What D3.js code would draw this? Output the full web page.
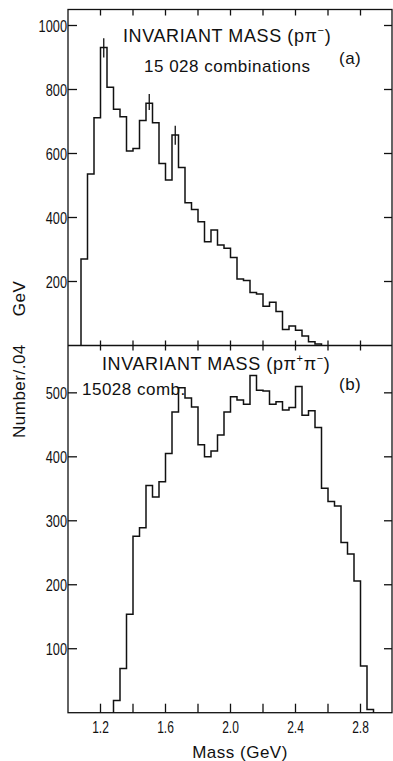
<!DOCTYPE html>
<html>
<head>
<meta charset="utf-8">
<script src="https://cdn.jsdelivr.net/npm/d3@7"></script>
<style>
  html, body { margin: 0; padding: 0; background: #fff; }
  svg { display: block; }
  .tick-label { font-family: "Liberation Sans", "DejaVu Sans", sans-serif; font-size: 17px; fill: #111; }
  .title { font-family: "Liberation Sans", "DejaVu Sans", sans-serif; font-size: 18px; fill: #111; letter-spacing: 0.6px; }
  .sub { font-family: "Liberation Sans", "DejaVu Sans", sans-serif; font-size: 17px; fill: #111; letter-spacing: 0.5px; }
</style>
</head>
<body>
<svg id="chart" width="393" height="761"></svg>
<script>
// lower bin edges (GeV), bins are .04 GeV wide
const binWidth = 0.04;
const edgesA = [1.08, 1.12, 1.16, 1.20, 1.24, 1.28, 1.32, 1.36, 1.40, 1.44, 1.48, 1.52, 1.56, 1.60, 1.64, 1.68,
  1.72, 1.76, 1.80, 1.84, 1.88, 1.92, 1.96, 2.00, 2.04, 2.08, 2.12, 2.16, 2.20, 2.24, 2.28, 2.32, 2.36, 2.40,
  2.44, 2.48, 2.52];
const countsA = [270, 536, 712, 931, 807, 738, 715, 608, 616, 703, 757, 696, 569, 517, 658, 556,
  446, 425, 387, 324, 361, 314, 304, 275, 208, 203, 166, 161, 123, 135, 106, 50, 61, 48,
  30, 12, 5];
// error bars on the three peaks of (a)
const errMassA = [1.22, 1.50, 1.66];
const errLowA = [900, 736, 627];
const errHighA = [960, 786, 687];

const edgesB = [1.28, 1.32, 1.36, 1.40, 1.44, 1.48, 1.52, 1.56, 1.60, 1.64, 1.68, 1.72, 1.76, 1.80,
  1.84, 1.88, 1.92, 1.96, 2.00, 2.04, 2.08, 2.12, 2.16, 2.20, 2.24, 2.28, 2.32, 2.36, 2.40, 2.44,
  2.48, 2.52, 2.56, 2.60, 2.64, 2.68, 2.72, 2.76, 2.80, 2.84];
const countsB = [19, 69, 154, 276, 289, 355, 337, 361, 405, 470, 508, 492, 478, 419,
  400, 409, 434, 470, 494, 489, 482, 527, 504, 503, 482, 486, 473, 477, 510, 465,
  472, 446, 351, 330, 323, 266, 248, 206, 73, 5];

const xTicks = [1.2, 1.4, 1.6, 1.8, 2.0, 2.2, 2.4, 2.6, 2.8];
const xTickLabels = ["1.2", "1.6", "2.0", "2.4", "2.8"];
const yTicksA = [200, 400, 600, 800, 1000];
const yTicksB = [100, 200, 300, 400, 500];

const svg = d3.select("#chart");

let plotLeft = 68, plotRight = 392, plotTop = 9.5, plotMid = 345.5, plotBottom = 712.7;

let x = d3.scaleLinear().domain([1.0, 3.0]).range([plotLeft, 393]);
let yA = d3.scaleLinear().domain([0, 1050]).range([plotMid, plotTop]);
let yB = d3.scaleLinear().domain([0, 574]).range([plotBottom, plotMid]);

// step outline of a histogram
function histPath(edges, counts, y) {
  let pts = [[x(edges[0]), y(0)]];
  edges.forEach((e, i) => {
    pts.push([x(e), y(counts[i])]);
    pts.push([x(e + binWidth), y(counts[i])]);
  });
  pts.push([x(edges[edges.length - 1] + binWidth), y(0)]);
  return d3.line()(pts);
}

// narrow tick numbers like the typewriter-ish original
function labelWidth(s) {
  s = String(s);
  let dots = s.split(".").length - 1;
  return (s.length - dots) * 7.1 + dots * 2.5;
}

const axisStroke = "#111";

// frame
svg.append("rect")
  .attr("x", plotLeft).attr("y", plotTop)
  .attr("width", plotRight - plotLeft).attr("height", plotBottom - plotTop)
  .attr("fill", "none").attr("stroke", axisStroke).attr("stroke-width", 1.3);
svg.append("line")
  .attr("x1", plotLeft).attr("x2", plotRight).attr("y1", plotMid).attr("y2", plotMid)
  .attr("stroke", axisStroke).attr("stroke-width", 1.3);

// x ticks: top edge, middle line, bottom edge
let xt = svg.append("g").attr("stroke", axisStroke).attr("stroke-width", 1.3);
xTicks.forEach(t => {
  xt.append("line").attr("x1", x(t)).attr("x2", x(t)).attr("y1", plotTop).attr("y2", plotTop + 6);
  xt.append("line").attr("x1", x(t)).attr("x2", x(t)).attr("y1", plotMid - 5).attr("y2", plotMid + 5);
  xt.append("line").attr("x1", x(t)).attr("x2", x(t)).attr("y1", plotBottom - 9).attr("y2", plotBottom);
});

svg.selectAll(".xlab")
  .data(xTickLabels)
  .enter()
  .append("text")
  .attr("class", "tick-label")
  .attr("x", d => x(+d))
  .attr("y", 733)
  .attr("text-anchor", "middle")
  .attr("textLength", d => labelWidth(d))
  .attr("lengthAdjust", "spacingAndGlyphs")
  .text(d => d);

// y ticks on both sides, labels on the left
function yTicks(ticks, y) {
  let g = svg.append("g");
  ticks.forEach(t => {
    g.append("line").attr("x1", plotLeft).attr("x2", plotLeft + 9).attr("y1", y(t)).attr("y2", y(t))
      .attr("stroke", axisStroke).attr("stroke-width", 1.3);
    g.append("line").attr("x1", plotRight - 8).attr("x2", plotRight).attr("y1", y(t)).attr("y2", y(t))
      .attr("stroke", axisStroke).attr("stroke-width", 1.3);
    g.append("text").attr("class", "tick-label")
      .attr("x", plotLeft - 1).attr("y", y(t) + 6)
      .attr("text-anchor", "end")
      .attr("textLength", labelWidth(t))
      .attr("lengthAdjust", "spacingAndGlyphs")
      .text(t);
  });
}
yTicks(yTicksA, yA);
yTicks(yTicksB, yB);

// histograms
svg.append("path")
  .attr("d", histPath(edgesA, countsA, yA))
  .attr("fill", "none").attr("stroke", "#111").attr("stroke-width", 1.5);
svg.append("path")
  .attr("d", histPath(edgesB, countsB, yB))
  .attr("fill", "none").attr("stroke", "#111").attr("stroke-width", 1.5);

svg.selectAll(".err")
  .data(errMassA)
  .enter()
  .append("line")
  .attr("x1", d => x(d)).attr("x2", d => x(d))
  .attr("y1", (d, i) => yA(errLowA[i])).attr("y2", (d, i) => yA(errHighA[i]))
  .attr("stroke", "#111").attr("stroke-width", 1.3);

// titles
let t1 = svg.append("text").attr("class", "title").attr("x", 123).attr("y", 42);
t1.append("tspan").text("INVARIANT MASS (pπ");
t1.append("tspan").attr("font-size", 11).attr("dy", -8).text("−");
t1.append("tspan").attr("dy", 8).text(")");

svg.append("text").attr("class", "sub").attr("x", 144).attr("y", 72).text("15 028 combinations");
svg.append("text").attr("class", "sub").attr("x", 339).attr("y", 64).text("(a)");

let t2 = svg.append("text").attr("class", "title").attr("x", 102).attr("y", 370);
t2.append("tspan").text("INVARIANT MASS (pπ");
t2.append("tspan").attr("font-size", 11).attr("dy", -8).text("+");
t2.append("tspan").attr("dy", 8).text("π");
t2.append("tspan").attr("font-size", 11).attr("dy", -8).text("−");
t2.append("tspan").attr("dy", 8).text(")");

svg.append("text").attr("class", "sub").attr("x", 82).attr("y", 395).text("15028 comb.");
svg.append("text").attr("class", "sub").attr("x", 339).attr("y", 390).text("(b)");

// axis titles
svg.append("text").attr("class", "sub")
  .attr("x", 240).attr("y", 758)
  .attr("text-anchor", "middle")
  .text("Mass (GeV)");

let yl = svg.append("text").attr("class", "sub")
  .attr("transform", "translate(25,438) rotate(-90)")
  .attr("x", 0).attr("y", 0);
yl.append("tspan").text("Number/.04");
yl.append("tspan").attr("dx", 28).text("GeV");
</script>
</body>
</html>
